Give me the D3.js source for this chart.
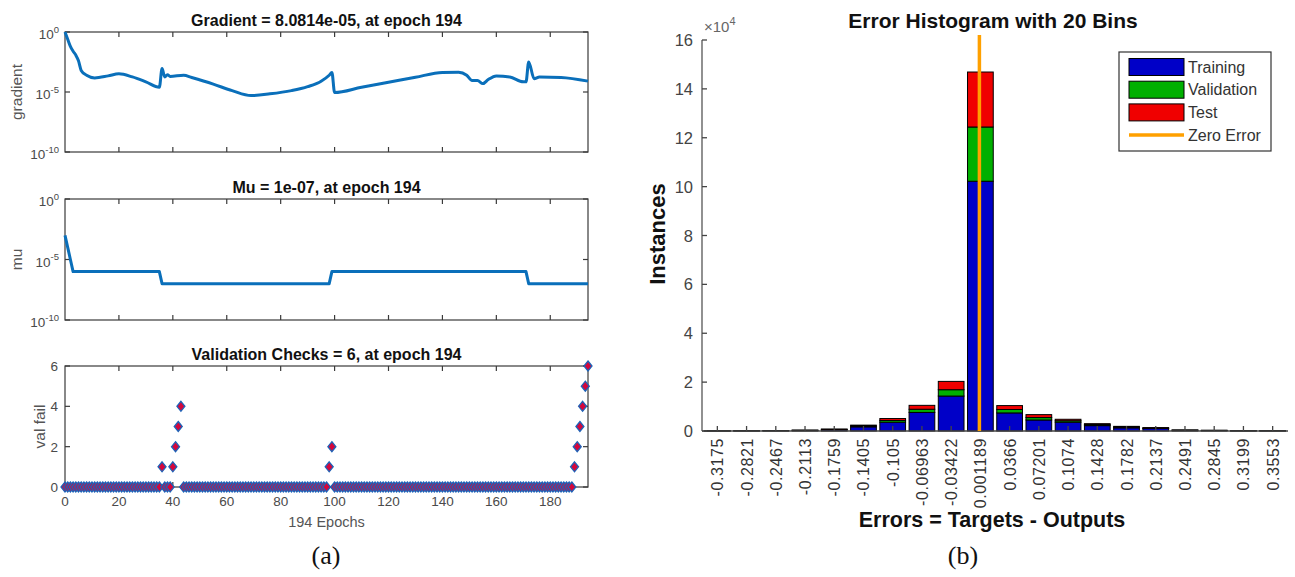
<!DOCTYPE html>
<html><head><meta charset="utf-8">
<script src="https://cdn.jsdelivr.net/npm/d3@7"></script>
<style>body{margin:0;background:#fff}svg{display:block}</style>
</head><body>
<svg id="c" width="1295" height="577"></svg>
<script>
// ================= DATA =================
// (a) training performance panels
const epochTicks = [0, 20, 40, 60, 80, 100, 120, 140, 160, 180];
const logTicks = [1e-10, 1e-5, 1];
const logTickExps = ["-10", "-5", "0"];

const gradEpochs = [0, 1, 2, 3, 4, 5, 6, 8, 11, 16, 20, 25, 30, 35, 36, 37, 38, 39, 44, 47, 55, 62, 69, 76, 84, 90, 95, 98, 99, 100, 110, 120, 130, 140, 146, 149, 151, 153, 155, 157, 160, 165, 170, 171, 172, 174, 176, 184, 194];
const gradValues = [1, 2.5e-1, 6.3e-2, 2.5e-2, 1.2e-2, 4.0e-3, 6.3e-4, 2.5e-4, 1.5e-4, 2.2e-4, 3.3e-4, 1.8e-4, 7.0e-5, 2.5e-5, 9.0e-4, 1.8e-4, 2.8e-4, 2.0e-4, 2.5e-4, 1.6e-4, 4.5e-5, 1.3e-5, 5.0e-6, 7.0e-6, 1.3e-5, 2.8e-5, 8.0e-5, 2.5e-4, 4.3e-4, 9.0e-6, 2.5e-5, 6.5e-5, 1.7e-4, 4.3e-4, 4.5e-4, 2.5e-4, 9.0e-5, 9.0e-5, 5.0e-5, 1.1e-4, 2.2e-4, 1.8e-4, 7.0e-5, 7.0e-5, 3.2e-3, 1.3e-4, 1.8e-4, 1.65e-4, 8.0814e-5];

const muEpochs = [0, 1, 2, 3, 35, 36, 98, 99, 171, 172, 194];
const muValues = [1e-3, 1e-4, 1e-5, 1e-6, 1e-6, 1e-7, 1e-7, 1e-6, 1e-6, 1e-7, 1e-7];

const valTicks = [0, 2, 4, 6];
const valFail = [
  0,0,0,0,0,0,0,0,0,0, 0,0,0,0,0,0,0,0,0,0, 0,0,0,0,0,0,0,0,0,0, 0,0,0,0,0,0,1,0,0,0,
  1,2,3,4,0,0,0,0,0,0, 0,0,0,0,0,0,0,0,0,0, 0,0,0,0,0,0,0,0,0,0, 0,0,0,0,0,0,0,0,0,0,
  0,0,0,0,0,0,0,0,0,0, 0,0,0,0,0,0,0,0,1,2, 0,0,0,0,0,0,0,0,0,0, 0,0,0,0,0,0,0,0,0,0,
  0,0,0,0,0,0,0,0,0,0, 0,0,0,0,0,0,0,0,0,0, 0,0,0,0,0,0,0,0,0,0, 0,0,0,0,0,0,0,0,0,0,
  0,0,0,0,0,0,0,0,0,0, 0,0,0,0,0,0,0,0,0,0, 0,0,0,0,0,0,0,0,0,1, 2,3,4,5,6
];

// (b) error histogram
const binLabels = ["-0.3175","-0.2821","-0.2467","-0.2113","-0.1759","-0.1405","-0.105","-0.06963","-0.03422","0.001189","0.0366","0.07201","0.1074","0.1428","0.1782","0.2137","0.2491","0.2845","0.3199","0.3553"];
const trainCounts = [40, 70, 100, 250, 550, 1700, 3600, 7600, 14300, 102200, 7400, 4500, 3600, 2200, 1300, 1000, 300, 200, 80, 80];
const valCounts   = [5, 10, 25, 50, 120, 350, 700, 1300, 2600, 22200, 1400, 1000, 600, 400, 300, 200, 50, 50, 10, 10];
const testCounts  = [5, 10, 25, 50, 130, 350, 800, 1600, 3400, 22500, 1600, 1200, 600, 400, 300, 200, 50, 50, 10, 10];
const histTicks = [0, 20000, 40000, 60000, 80000, 100000, 120000, 140000, 160000];
const legendItems = ["Training", "Validation", "Test", "Zero Error"];

// ================= DRAWING =================
const FONT = "'Liberation Sans', Arial, Helvetica, sans-serif";
const SERIF = "'Liberation Serif', 'Times New Roman', serif";
const svg = d3.select('#c');
svg.append('rect').attr('width', 1295).attr('height', 577).attr('fill', '#fff');

const AX = '#3a3a3a', TXT = '#4a4a4a', LINE = '#0a6fba';

function text(x, y, s, o) {
  o = o || {};
  let tr = `translate(${x},${y})`;
  if (o.rot) tr += ` rotate(${o.rot})`;
  const t = svg.append('text').attr('transform', tr)
    .attr('text-anchor', o.anchor || 'middle')
    .attr('font-family', o.family || FONT)
    .attr('font-size', o.size || 13)
    .attr('font-weight', o.weight || 'normal')
    .attr('fill', o.fill || '#000')
    .text(s);
  if (o.ls) t.attr('letter-spacing', o.ls);
  return t;
}
function supText(x, y, base, exp, size, supSize, anchor, fill) {
  const t = svg.append('text').attr('x', x).attr('y', y)
    .attr('text-anchor', anchor).attr('font-family', FONT)
    .attr('font-size', size).attr('fill', fill);
  t.append('tspan').text(base);
  t.append('tspan').attr('dy', -size * 0.45).attr('font-size', supSize).text(exp);
  return t;
}

const L0 = 65, L1 = 588;
const xEpoch = d3.scaleLinear().domain([0, 194]).range([L0, L1]);
const panels = [
  { top: 32, bot: 152, title: 'Gradient = 8.0814e-05, at epoch 194', ylab: 'gradient', ylx: 22 },
  { top: 199, bot: 320, title: 'Mu = 1e-07, at epoch 194', ylab: 'mu', ylx: 22 },
  { top: 366, bot: 487, title: 'Validation Checks = 6, at epoch 194', ylab: 'val fail', ylx: 45 }
];

function drawFrame(p, yScale, yTicks) {
  svg.append('rect').attr('x', L0).attr('y', p.top).attr('width', L1 - L0).attr('height', p.bot - p.top)
    .attr('fill', 'none').attr('stroke', AX).attr('stroke-width', 1.2);
  epochTicks.filter(t => t > 0).forEach(t => {
    const x = xEpoch(t);
    svg.append('line').attr('x1', x).attr('x2', x).attr('y1', p.bot).attr('y2', p.bot - 5).attr('stroke', AX).attr('stroke-width', 1.2);
    svg.append('line').attr('x1', x).attr('x2', x).attr('y1', p.top).attr('y2', p.top + 5).attr('stroke', AX).attr('stroke-width', 1.2);
  });
  yTicks.forEach(t => {
    const y = yScale(t);
    svg.append('line').attr('x1', L0).attr('x2', L0 + 5).attr('y1', y).attr('y2', y).attr('stroke', AX).attr('stroke-width', 1.2);
    svg.append('line').attr('x1', L1).attr('x2', L1 - 5).attr('y1', y).attr('y2', y).attr('stroke', AX).attr('stroke-width', 1.2);
  });
  text((L0 + L1) / 2, p.top - 6, p.title, { size: 16, weight: 'bold', fill: '#111' });
  text(p.ylx, (p.top + p.bot) / 2, p.ylab, { rot: -90, size: 15.5, fill: '#555' });
}

// Panel 1 & 2: log scale
const yGrad = d3.scaleLog().domain([1e-10, 1]).range([panels[0].bot, panels[0].top]);
const yMu = d3.scaleLog().domain([1e-10, 1]).range([panels[1].bot, panels[1].top]);
[[panels[0], yGrad], [panels[1], yMu]].forEach(([p, ys]) => {
  drawFrame(p, ys, logTicks);
  logTicks.forEach((t, i) => supText(59, ys(t) + 7, '10', logTickExps[i], 13.5, 9.5, 'end', TXT));
});

const lineGen = (ys) => d3.line().x(d => xEpoch(d[0])).y(d => ys(d[1]));
svg.append('path').datum(gradEpochs.map((e, i) => [e, gradValues[i]]))
  .attr('d', lineGen(yGrad).curve(d3.curveMonotoneX))
  .attr('fill', 'none').attr('stroke', LINE).attr('stroke-width', 3).attr('stroke-linejoin', 'round');
svg.append('path').datum(muEpochs.map((e, i) => [e, muValues[i]]))
  .attr('d', lineGen(yMu))
  .attr('fill', 'none').attr('stroke', LINE).attr('stroke-width', 3).attr('stroke-linejoin', 'round');

// Panel 3: validation checks
const p3 = panels[2];
const yVal = d3.scaleLinear().domain([0, 6]).range([p3.bot, p3.top]);
drawFrame(p3, yVal, valTicks);
valTicks.forEach(t => text(58, yVal(t) + 5, String(t), { anchor: 'end', size: 13.5, fill: TXT }));
epochTicks.forEach(t => text(xEpoch(t), p3.bot + 19, String(t), { size: 13.5, fill: TXT }));
text((L0 + L1) / 2, 527, '194 Epochs', { size: 14.5, fill: '#555' });
svg.append('g').selectAll('path').data(valFail).join('path')
  .attr('transform', (d, i) => `translate(${xEpoch(i)},${yVal(d)})`)
  .attr('d', 'M0,-5L4,0L0,5L-4,0Z')
  .attr('fill', '#d4073c').attr('stroke', '#1d63b8').attr('stroke-width', 1.3);

text(326, 564, '(a)', { size: 26, family: SERIF, fill: '#111' });

// ---------------- Histogram ----------------
const HX0 = 702, HX1 = 1288;
const xBand = d3.scaleBand().domain(binLabels).range([HX0, HX1]).paddingInner(0.12).paddingOuter(0.085);
const yHist = d3.scaleLinear().domain([0, 160000]).range([431, 40]);
const rows = binLabels.map((b, i) => ({ bin: b, train: trainCounts[i], val: valCounts[i], test: testCounts[i] }));
const stack = d3.stack().keys(['train', 'val', 'test'])(rows);
const colors = { train: '#0000c8', val: '#00b000', test: '#f00000' };

const gBars = svg.append('g');
stack.forEach(layer => {
  gBars.selectAll(null).data(layer).join('rect')
    .attr('x', d => xBand(d.data.bin))
    .attr('width', xBand.bandwidth())
    .attr('y', d => yHist(d[1]))
    .attr('height', d => Math.max(0, yHist(d[0]) - yHist(d[1])))
    .attr('fill', colors[layer.key])
    .attr('stroke', '#000').attr('stroke-width', 1);
});

// axes
svg.append('line').attr('x1', HX0).attr('x2', HX1).attr('y1', yHist(0)).attr('y2', yHist(0)).attr('stroke', '#444').attr('stroke-width', 1.3);
svg.append('line').attr('x1', HX0).attr('x2', HX0).attr('y1', yHist(0)).attr('y2', yHist(160000)).attr('stroke', '#555').attr('stroke-width', 1.3);
histTicks.forEach(t => {
  const y = yHist(t);
  svg.append('line').attr('x1', HX0).attr('x2', HX0 + 5).attr('y1', y).attr('y2', y).attr('stroke', '#444').attr('stroke-width', 1.3);
  text(693, y + 6, String(t / 10000), { anchor: 'end', size: 16.5, fill: '#444' });
});
binLabels.forEach(b => {
  const x = xBand(b) + xBand.bandwidth() / 2;
  svg.append('line').attr('x1', x).attr('x2', x).attr('y1', yHist(0)).attr('y2', yHist(0) - 5).attr('stroke', '#444').attr('stroke-width', 1.3);
  text(x + 6, 438, b, { rot: -90, anchor: 'end', size: 16, fill: '#333', ls: 0.6 });
});
supText(704, 32, '\u00d710', '4', 15, 11, 'start', '#666');

// zero error line
const binStep = xBand.step();
const binWidthVal = (+binLabels[10]) - (+binLabels[9]);
const xZero = xBand(binLabels[9]) + xBand.bandwidth() / 2 + (0 - (+binLabels[9])) / binWidthVal * binStep;
svg.append('line').attr('x1', xZero).attr('x2', xZero).attr('y1', yHist(0)).attr('y2', yHist(162000))
  .attr('stroke', '#ffa000').attr('stroke-width', 3.5);

// titles
text(993, 28, 'Error Histogram with 20 Bins', { size: 21, weight: 'bold', fill: '#111' });
text(992, 527, 'Errors = Targets - Outputs', { size: 21.5, weight: 'bold', fill: '#111' });
text(665, 234, 'Instances', { rot: -90, size: 22, weight: 'bold', fill: '#111' });
text(963, 564, '(b)', { size: 26, family: SERIF, fill: '#111' });

// legend
const lg = { x: 1119, y: 52, w: 152, h: 99 };
svg.append('rect').attr('x', lg.x).attr('y', lg.y).attr('width', lg.w).attr('height', lg.h)
  .attr('fill', '#fff').attr('stroke', '#333').attr('stroke-width', 1.2);
const legColors = [colors.train, colors.val, colors.test, '#ffa000'];
legendItems.forEach((name, i) => {
  const cy = 67 + i * 22.7;
  if (i < 3) {
    svg.append('rect').attr('x', 1129).attr('y', cy - 8.5).attr('width', 55).attr('height', 17)
      .attr('fill', legColors[i]).attr('stroke', '#000').attr('stroke-width', 1);
  } else {
    svg.append('line').attr('x1', 1129).attr('x2', 1184).attr('y1', cy).attr('y2', cy)
      .attr('stroke', legColors[i]).attr('stroke-width', 3.5);
  }
  text(1188, cy + 5.5, name, { anchor: 'start', size: 16, fill: '#333' });
});
</script>
</body></html>
